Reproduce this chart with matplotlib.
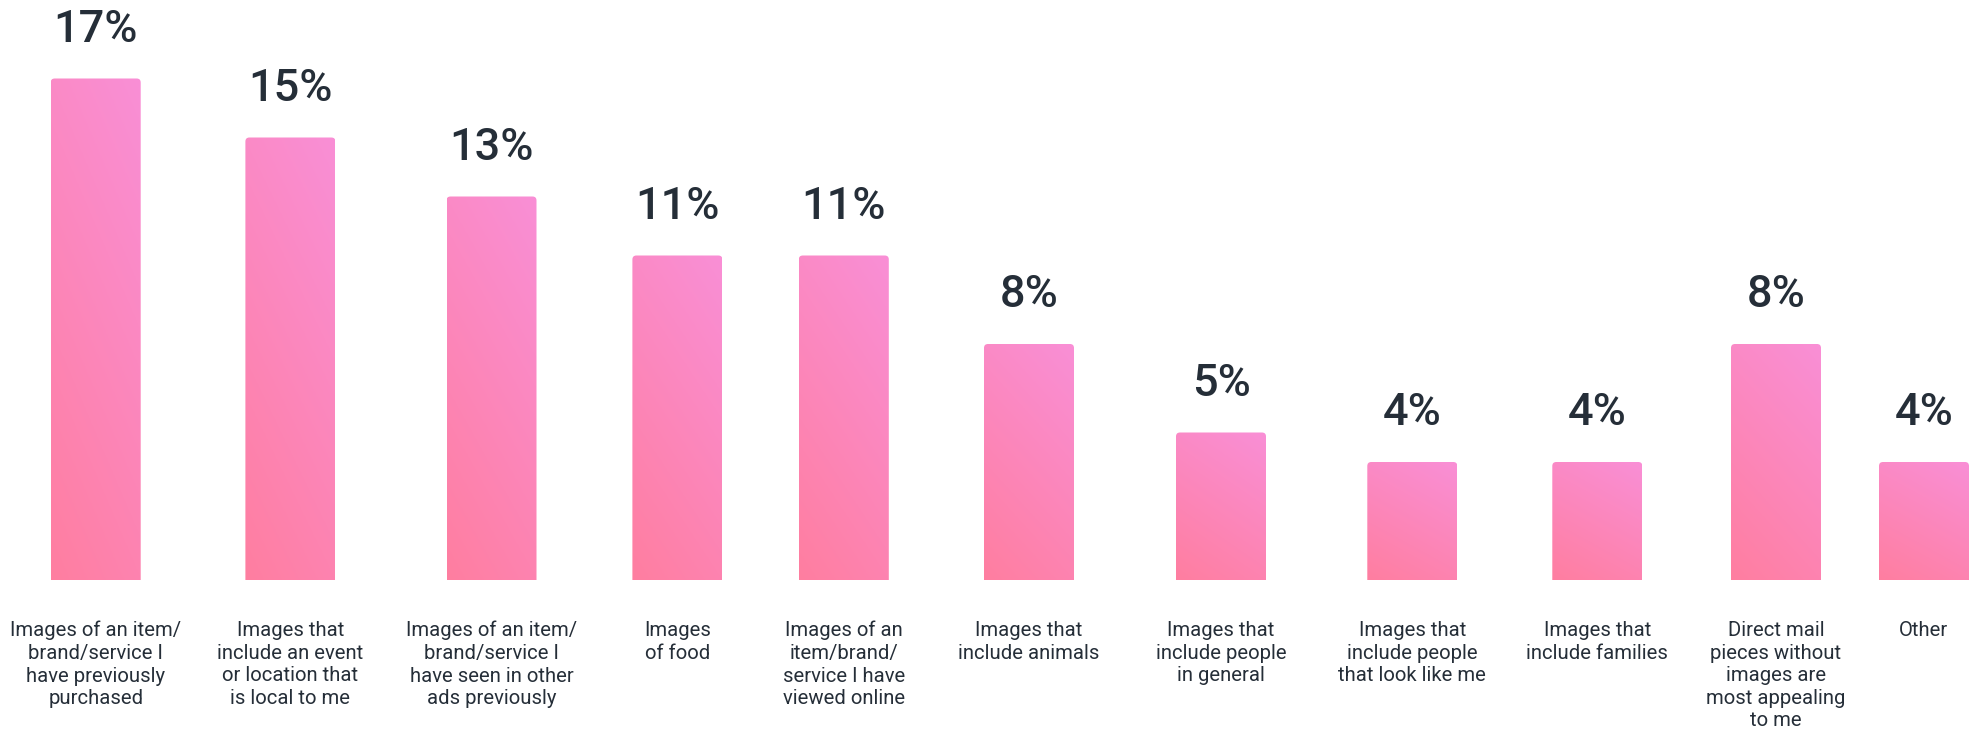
import numpy as np
import matplotlib
matplotlib.use("Agg")
import matplotlib.pyplot as plt
from matplotlib.patches import FancyBboxPatch
from matplotlib.colors import LinearSegmentedColormap

# ---- data ----
categories = [
    "Images of an item/\nbrand/service I\nhave previously\npurchased",
    "Images that\ninclude an event\nor location that\nis local to me",
    "Images of an item/\nbrand/service I\nhave seen in other\nads previously",
    "Images\nof food",
    "Images of an\nitem/brand/\nservice I have\nviewed online",
    "Images that\ninclude animals",
    "Images that\ninclude people\nin general",
    "Images that\ninclude people\nthat look like me",
    "Images that\ninclude families",
    "Direct mail\npieces without\nimages are\nmost appealing\nto me",
    "Other",
]
values = [17, 15, 13, 11, 11, 8, 5, 4, 4, 8, 4]
value_labels = ["17%", "15%", "13%", "11%", "11%", "8%", "5%", "4%", "4%", "8%", "4%"]

# ---- layout (horizontal slot centres, in figure pixel units) ----
slot_centers = [95.7, 290.4, 491.5, 677.4, 843.8, 1029, 1221, 1412.3, 1597.3, 1776, 1924]
bar_width = 90

W, H = 1980, 734
fig = plt.figure(figsize=(W / 100, H / 100), dpi=100)
px_per_pct = 29.5
y_bottom_px = 580
ymax = 19.5
ax_h = ymax * px_per_pct
ax = fig.add_axes([0, (H - y_bottom_px) / H, 1, ax_h / H])
ax.set_xlim(0, W)
ax.set_ylim(0, ymax)
for s in ax.spines.values():
    s.set_visible(False)
ax.set_yticks([])

text_color = "#252e38"
cmap = LinearSegmentedColormap.from_list("pinkgrad", ["#ff7ea0", "#f98fd6"])

# diagonal gradient image (bottom-left -> top-right)
gy, gx = np.mgrid[0:1:200j, 0:1:50j]
grad = (gy * 0.85 + gx * 0.35)
grad = grad / grad.max()

for xc, v, lab in zip(slot_centers, values, value_labels):
    x0 = xc - bar_width / 2
    im = ax.imshow(grad, cmap=cmap, origin="lower", aspect="auto",
                   extent=(x0, x0 + bar_width, 0, v), interpolation="bilinear",
                   zorder=2)
    # clip with rounded top; bottom corners pushed below the baseline (square)
    clip = FancyBboxPatch((x0, -1), bar_width, v + 1,
                          boxstyle="round,pad=0,rounding_size=4",
                          mutation_aspect=1 / px_per_pct,
                          facecolor="none", edgecolor="none",
                          transform=ax.transData)
    ax.add_patch(clip)
    im.set_clip_path(clip)
    ax.annotate(lab, (xc, v), xytext=(0, 26.5), textcoords="offset points",
                ha="center", va="baseline", fontsize=32.5, fontweight="medium",
                family=["Roboto", "DejaVu Sans"], color=text_color)

ax.set_xticks(slot_centers)
ax.set_xticklabels(categories, fontsize=14.6, color=text_color,
                   family=["Roboto", "DejaVu Sans"], linespacing=1.24,
                   va="top", ha="center")
ax.tick_params(axis="x", length=0, pad=29.5)

fig.savefig("out.png", dpi=100, facecolor="white")
